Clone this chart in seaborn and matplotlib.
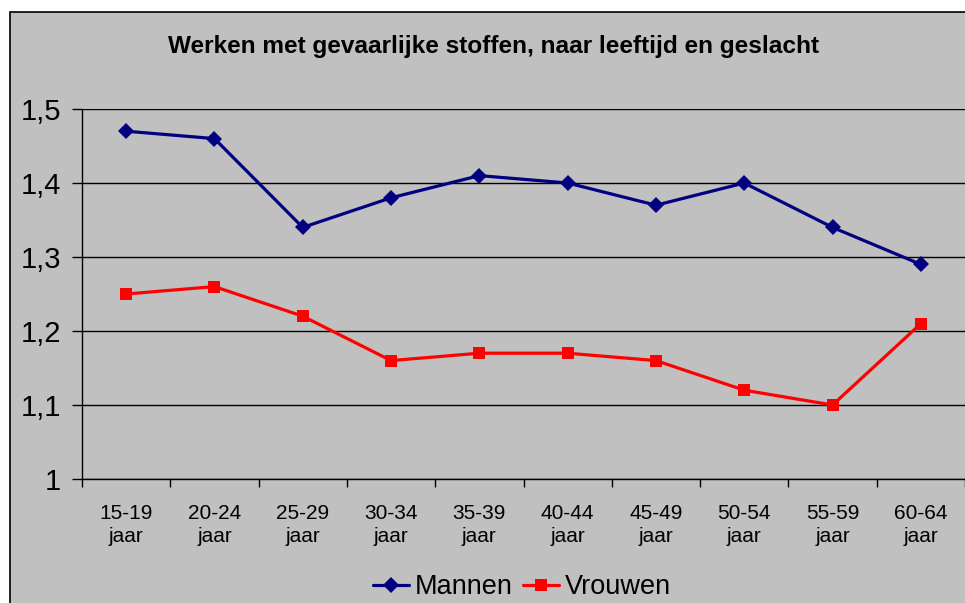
import pandas as pd
import numpy as np
import matplotlib
matplotlib.use("Agg")
import matplotlib.pyplot as plt
import seaborn as sns
from matplotlib.patches import Rectangle
from matplotlib.ticker import FuncFormatter, FixedLocator

# data
leeftijd = ["15-19\njaar", "20-24\njaar", "25-29\njaar", "30-34\njaar", "35-39\njaar",
            "40-44\njaar", "45-49\njaar", "50-54\njaar", "55-59\njaar", "60-64\njaar"]
mannen = [1.47, 1.46, 1.34, 1.38, 1.41, 1.40, 1.37, 1.40, 1.34, 1.29]
vrouwen = [1.25, 1.26, 1.22, 1.16, 1.17, 1.17, 1.16, 1.12, 1.10, 1.21]
y_ticks = [1.0, 1.1, 1.2, 1.3, 1.4, 1.5]

df = pd.DataFrame({
    "leeftijd": leeftijd * 2,
    "waarde": mannen + vrouwen,
    "geslacht": ["Mannen"] * len(mannen) + ["Vrouwen"] * len(vrouwen),
})

sns.set_style("white")
plt.rcParams["font.family"] = ["Liberation Sans", "DejaVu Sans"]

grey = "#c0c0c0"
fig = plt.figure(figsize=(9.65, 6.03), dpi=100)
fig.patch.set_facecolor("white")
# chart area: grey with black border, cut off at the right and bottom
fig.patches.append(Rectangle((10 / 965, -0.1), 1.2, 1.1 - 12 / 603, transform=fig.transFigure,
                             facecolor=grey, edgecolor="black", linewidth=1.2, zorder=-10))

ax = fig.add_axes([82 / 965, 1 - 479 / 603, 1 - 82 / 965, (479 - 109) / 603])
ax.set_facecolor(grey)

sns.lineplot(data=df, x="leeftijd", y="waarde", hue="geslacht", style="geslacht",
             palette={"Mannen": "#000080", "Vrouwen": "#ff0000"},
             markers={"Mannen": "D", "Vrouwen": "s"}, dashes=False,
             markersize=8.5, linewidth=2.3, markeredgewidth=0, ax=ax, sort=False)

ax.set_xlim(-0.5, len(leeftijd) - 0.5)
ax.set_ylim(1.0, 1.5)
ax.set_yticks(y_ticks)
ax.yaxis.set_major_formatter(FuncFormatter(lambda v, p: f"{v:.1f}".replace(".", ",").replace(",0", "")))
ax.grid(axis="y", color="black", linewidth=1)
ax.set_axisbelow(True)

ax.xaxis.set_minor_locator(FixedLocator(np.arange(-0.5, len(leeftijd), 1.0)))
ax.tick_params(axis="x", which="major", length=0, labelsize=15, pad=18, labelcolor="black")
ax.tick_params(axis="x", which="minor", length=6, width=1, color="black", direction="out")
ax.tick_params(axis="y", length=7, width=1, color="black", direction="out", labelsize=21,
               pad=8, labelcolor="black")
for lbl in ax.get_xticklabels():
    lbl.set_linespacing(1.3)
ax.xaxis.set_ticks_position("bottom")
ax.yaxis.set_ticks_position("left")

for s in ["top", "right"]:
    ax.spines[s].set_visible(False)
for s in ["left", "bottom"]:
    ax.spines[s].set_color("black")
    ax.spines[s].set_linewidth(1)

ax.set_xlabel("")
ax.set_ylabel("")
ax.get_legend().remove()

fig.text(0.511, 1 - 46 / 603, "Werken met gevaarlijke stoffen, naar leeftijd en geslacht",
         ha="center", va="center", fontsize=17.6, fontweight="bold", color="black")

handles, labels = ax.get_legend_handles_labels()
fig.legend(handles, labels, loc="center", bbox_to_anchor=(0.541, 0.026), ncol=2,
           frameon=False, fontsize=19.5, handlelength=1.33, columnspacing=0.4,
           handletextpad=0.22, borderaxespad=0, labelcolor="black")

fig.savefig("out.png", dpi=100)
